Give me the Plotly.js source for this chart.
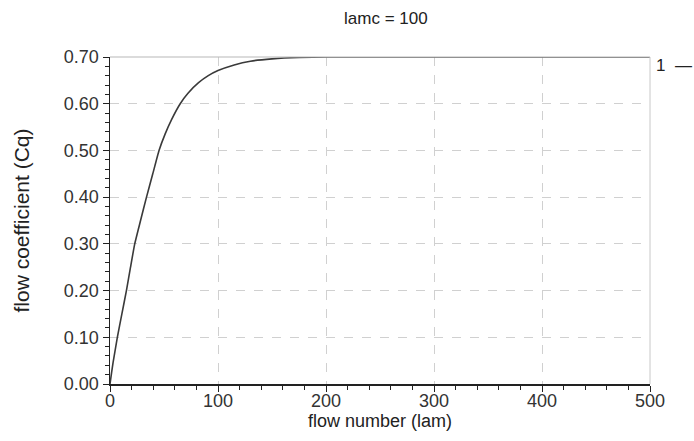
<!DOCTYPE html>
<html>
<head>
<meta charset="utf-8">
<script src="https://cdn.plot.ly/plotly-3.0.1.min.js"></script>
<style>html,body{margin:0;padding:0;background:#fff;}#chart{width:694px;height:441px;}</style>
</head>
<body>
<div id="chart"></div>
<script>
var lam = [0, 1.5, 2.8, 6.8, 11, 15.2, 19, 22.9, 28.3, 33.8, 39.6, 45.4, 51, 57, 65, 72, 82, 91, 100, 115, 130, 150, 175, 200, 300, 400, 500];
var cq  = [0, 0.025, 0.045, 0.10, 0.15, 0.20, 0.25, 0.30, 0.35, 0.40, 0.45, 0.50, 0.535, 0.566, 0.60, 0.622, 0.645, 0.660, 0.671, 0.683, 0.691, 0.696, 0.699, 0.70, 0.70, 0.70, 0.70];
var seriesName = "1";
var titleText = "lamc = 100";
var xTitle = "flow number (lam)";
var yTitle = "flow coefficient (Cq)";

var font = "Liberation Sans, Arial, sans-serif";

var trace = {
  x: lam, y: cq, type: "scatter", mode: "lines",
  line: {color: "#3a3a3a", width: 1.6, shape: "spline", smoothing: 0.4},
  name: seriesName, showlegend: false, hoverinfo: "skip"
};

var layout = {
  width: 694, height: 441,
  margin: {l: 110, r: 44, t: 57, b: 57},
  paper_bgcolor: "#fff", plot_bgcolor: "#fff",
  title: {text: titleText, x: 0.556, xanchor: "center", y: 0.958, yanchor: "middle",
          font: {family: font, size: 17, color: "#222"}},
  xaxis: {
    range: [0, 500], dtick: 100, tick0: 0,
    ticks: "outside", ticklen: 6, tickwidth: 1, tickcolor: "#222",
    showline: true, linecolor: "#222", linewidth: 1.5,
    showgrid: true, gridcolor: "#d0d0d0", griddash: "dash", gridwidth: 1,
    zeroline: false, ticklabelstandoff: -6,
    tickfont: {family: font, size: 18, color: "#333"},
    minor: {dtick: 20, ticks: "outside", ticklen: 4, tickcolor: "#222", showgrid: false},
    title: {text: xTitle, font: {family: font, size: 18, color: "#222"}, standoff: 0}
  },
  yaxis: {
    range: [0, 0.70], dtick: 0.1, tick0: 0, tickformat: ".2f",
    ticks: "outside", ticklen: 6, tickwidth: 1, tickcolor: "#222",
    showline: true, linecolor: "#222", linewidth: 1.5,
    showgrid: true, gridcolor: "#d0d0d0", griddash: "dash", gridwidth: 1,
    zeroline: false,
    tickfont: {family: font, size: 18, color: "#333"},
    minor: {dtick: 0.02, ticks: "outside", ticklen: 4, tickcolor: "#222", showgrid: false},
    title: {text: yTitle, font: {family: font, size: 21, color: "#222"}, standoff: 28}
  },
  shapes: [
    {type: "line", xref: "paper", yref: "paper", x0: 0, x1: 1, y0: 1, y1: 1,
     line: {color: "#b8b8b8", width: 1.2}},
    {type: "line", xref: "paper", yref: "paper", x0: 1, x1: 1, y0: 0, y1: 1,
     line: {color: "#c8c8c8", width: 1}}
  ],
  annotations: [
    {xref: "paper", yref: "paper", x: 1.008, y: 0.975, xanchor: "left", yanchor: "middle",
     text: seriesName + "  \u2014", showarrow: false,
     font: {family: font, size: 17, color: "#222"}}
  ]
};

Plotly.newPlot("chart", [trace], layout, {displayModeBar: false, staticPlot: true});
</script>
</body>
</html>
